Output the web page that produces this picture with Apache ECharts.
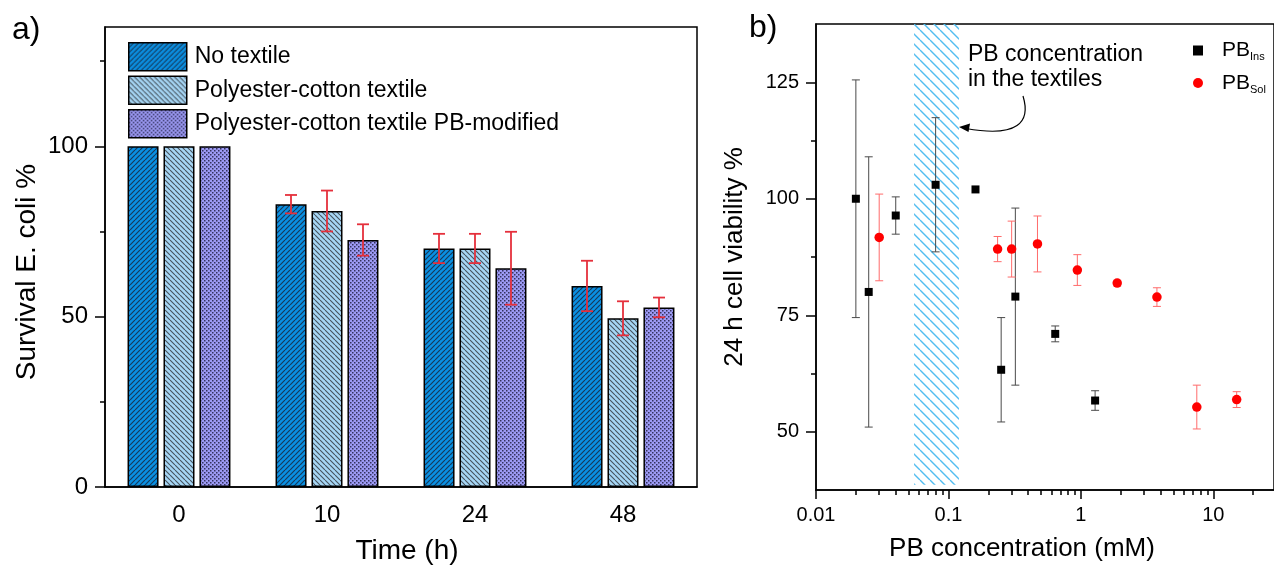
<!DOCTYPE html>
<html>
<head>
<meta charset="utf-8">
<script src="https://cdn.jsdelivr.net/npm/echarts@6/dist/echarts.min.js"></script>
<style>
  html, body { margin: 0; padding: 0; background: #fff; }
  #chart { width: 1274px; height: 570px; }
</style>
</head>
<body>
<div id="chart"></div>
<script>
// a) survival of E. coli
const times = ['0', '10', '24', '48'];
const noTextile = [100, 83, 70, 59];
const noTextileErr = [0, 2.7, 4.3, 7.4];
const cotton = [100, 81, 70, 49.5];
const cottonErr = [0, 6, 4.3, 5];
const cottonPB = [100, 72.5, 64.2, 52.7];
const cottonPBErr = [0, 4.6, 10.7, 2.9];
const survivalTicks = [0, 50, 100];
const survivalMinor = [25, 75, 125];

// b) cell viability vs PB concentration
const insConc = [0.02, 0.025, 0.04, 0.08, 0.16, 0.25, 0.32, 0.64, 1.28];
const insViab = [100, 80, 96.4, 103, 102, 63.3, 79, 71, 56.7];
const insErr = [25.5, 29, 4, 14.4, 0, 11.2, 19, 1.7, 2.1];
const solConc = [0.03, 0.235, 0.3, 0.47, 0.94, 1.88, 3.75, 7.5, 15];
const solViab = [91.7, 89.2, 89.2, 90.3, 84.7, 81.9, 78.9, 55.3, 56.9];
const solErr = [9.3, 2.7, 6, 6, 3.3, 0.6, 2, 4.7, 1.7];
const textileRange = [0.055, 0.12];
const concTicks = [0.01, 0.1, 1, 10];
const concLabels = ['0.01', '0.1', '1', '10'];
const concMinor = [0.02, 0.03, 0.04, 0.05, 0.06, 0.07, 0.08, 0.09,
  0.2, 0.3, 0.4, 0.5, 0.6, 0.7, 0.8, 0.9, 2, 3, 4, 5, 6, 7, 8, 9, 20];
const viabTicks = [50, 75, 100, 125];
const viabMinor = [62.5, 87.5, 112.5];

const FONT = 'Liberation Sans, Arial, sans-serif';

// hatch fills
function stripes(bg, fg, size, lw, back) {
  const c = document.createElement('canvas');
  c.width = c.height = size;
  const g = c.getContext('2d');
  if (bg) { g.fillStyle = bg; g.fillRect(0, 0, size, size); }
  g.strokeStyle = fg;
  g.lineWidth = lw;
  g.beginPath();
  for (let k = -1; k <= 1; k++) {
    if (back) {
      g.moveTo(k * size, 0); g.lineTo(k * size + size, size);
    } else {
      g.moveTo(k * size, size); g.lineTo(k * size + size, 0);
    }
  }
  g.stroke();
  return {image: c, repeat: 'repeat'};
}
function checker(bg, fg) {
  const c = document.createElement('canvas');
  c.width = c.height = 4;
  const g = c.getContext('2d');
  g.fillStyle = bg; g.fillRect(0, 0, 4, 4);
  g.fillStyle = fg;
  g.fillRect(0, 0, 1.5, 1.5);
  g.fillRect(2, 2, 1.5, 1.5);
  return {image: c, repeat: 'repeat'};
}

const fillNo = stripes('#0a90e2', '#163a5c', 5, 1.2, false);
const fillCotton = stripes('#a6d6f5', '#46535e', 5, 1.1, true);
const fillPB = checker('#9c9af4', '#34325e');
const fillBand = stripes(null, '#52bdf0', 10, 1.4, true);

function errBars(offset, color, width, cap) {
  return function (params, api) {
    const e = api.value(2);
    if (!e) return;
    const x = api.value(0), y = api.value(1);
    const hi = api.coord([x, y + e]);
    const lo = api.coord([x, y - e]);
    const cx = hi[0] + offset;
    const st = {stroke: color, lineWidth: width};
    return {
      type: 'group',
      children: [
        {type: 'line', shape: {x1: cx, y1: hi[1], x2: cx, y2: lo[1]}, style: st},
        {type: 'line', shape: {x1: cx - cap, y1: hi[1], x2: cx + cap, y2: hi[1]}, style: st},
        {type: 'line', shape: {x1: cx - cap, y1: lo[1], x2: cx + cap, y2: lo[1]}, style: st},
      ],
    };
  };
}

const axisLine = {lineStyle: {color: '#000', width: 1.5}};
const tickLine = {color: '#000', width: 1.5};

const chart = echarts.init(document.getElementById('chart'));
chart.setOption({
  animation: false,
  textStyle: {fontFamily: FONT, color: '#000'},
  grid: [
    {left: 105, top: 27, width: 592, height: 467, show: true, borderColor: '#000', borderWidth: 1.5},
    {left: 816, top: 24, width: 463, height: 466, show: true, borderColor: '#000', borderWidth: 1.5},
  ],
  legend: [
    {
      data: ['No textile', 'Polyester-cotton textile', 'Polyester-cotton textile PB-modified'],
      orient: 'vertical', left: 123, top: 37, icon: 'rect',
      itemWidth: 58, itemHeight: 28, itemGap: 4,
      itemStyle: {borderColor: '#000', borderWidth: 1.5},
      textStyle: {fontSize: 23, color: '#000', fontFamily: FONT, padding: [0, 0, 0, 3]},
    },
    {
      data: [{name: 'PBIns', icon: 'rect'}, {name: 'PBSol', icon: 'circle'}],
      orient: 'vertical', left: 1188, top: 35,
      itemWidth: 10, itemHeight: 10, itemGap: 10,
      formatter: name => '{a|PB}{b|' + name.slice(2) + '}',
      textStyle: {
        padding: [0, 0, 0, 14],
        rich: {
          a: {fontSize: 21, lineHeight: 24, fontFamily: FONT, color: '#000'},
          b: {fontSize: 11, lineHeight: 9, verticalAlign: 'bottom', fontFamily: FONT, color: '#000'},
        },
      },
    },
  ],
  xAxis: [
    {
      gridIndex: 0, type: 'category', data: times, position: 'bottom',
      axisLine: axisLine,
      axisTick: {alignWithLabel: true, length: 10, lineStyle: tickLine},
      axisLabel: {fontSize: 24, color: '#000', margin: 16},
      name: 'Time (h)', nameLocation: 'middle', nameGap: 50,
      nameTextStyle: {fontSize: 28, color: '#000', padding: [0, 0, 0, 12]},
    },
    {
      gridIndex: 0, type: 'category', data: times, position: 'bottom',
      axisLine: {show: false},
      axisTick: {length: 5, lineStyle: tickLine},
      axisLabel: {show: false},
    },
    {
      gridIndex: 1, type: 'log', logBase: 10, min: 0.01, max: 28.7, position: 'bottom',
      axisLine: axisLine,
      axisTick: {customValues: concTicks, length: 9, lineStyle: tickLine},
      axisLabel: {
        customValues: concTicks, fontSize: 20, color: '#000', margin: 15,
        formatter: v => concLabels[concTicks.findIndex(t => Math.abs(t - v) / t < 1e-6)] || '',
      },
      splitLine: {show: false},
      name: 'PB concentration (mM)', nameLocation: 'middle', nameGap: 46,
      nameTextStyle: {fontSize: 26, color: '#000', padding: [0, 46, 0, 0]},
    },
    {
      gridIndex: 1, type: 'log', logBase: 10, min: 0.01, max: 28.7, position: 'bottom',
      axisLine: {show: false},
      axisTick: {customValues: concMinor, length: 5, lineStyle: tickLine},
      axisLabel: {show: false},
      splitLine: {show: false},
    },
  ],
  yAxis: [
    {
      gridIndex: 0, type: 'value', min: 0, max: 135, position: 'left',
      axisLine: {show: true, lineStyle: axisLine.lineStyle},
      axisTick: {show: true, customValues: survivalTicks, length: 10, lineStyle: tickLine},
      axisLabel: {customValues: survivalTicks, fontSize: 24, color: '#000', margin: 17},
      splitLine: {show: false},
      name: 'Survival E. coli %', nameLocation: 'middle', nameGap: 64,
      nameTextStyle: {fontSize: 28, color: '#000', padding: [0, 30, 0, 0]},
    },
    {
      gridIndex: 0, type: 'value', min: 0, max: 135, position: 'left',
      axisLine: {show: false},
      axisTick: {show: true, customValues: survivalMinor, length: 5, lineStyle: tickLine},
      axisLabel: {show: false},
      splitLine: {show: false},
    },
    {
      gridIndex: 1, type: 'value', min: 37.5, max: 137.5, position: 'left',
      axisLine: {show: true, lineStyle: axisLine.lineStyle},
      axisTick: {show: true, customValues: viabTicks, length: 10, lineStyle: tickLine},
      axisLabel: {customValues: viabTicks, fontSize: 20, color: '#000', margin: 17},
      splitLine: {show: false},
      name: '24 h cell viability %', nameLocation: 'middle', nameGap: 68,
      nameTextStyle: {fontSize: 26, color: '#000'},
    },
    {
      gridIndex: 1, type: 'value', min: 37.5, max: 137.5, position: 'left',
      axisLine: {show: false},
      axisTick: {show: true, customValues: viabMinor, length: 5, lineStyle: tickLine},
      axisLabel: {show: false},
      splitLine: {show: false},
    },
  ],
  series: [
    {
      name: 'No textile', type: 'bar', xAxisIndex: 0, yAxisIndex: 0,
      data: noTextile, barWidth: 31, barGap: '16%',
      itemStyle: {color: fillNo, borderColor: '#000', borderWidth: 1.5},
    },
    {
      name: 'Polyester-cotton textile', type: 'bar', xAxisIndex: 0, yAxisIndex: 0,
      data: cotton, barWidth: 31, barGap: '16%',
      itemStyle: {color: fillCotton, borderColor: '#000', borderWidth: 1.5},
    },
    {
      name: 'Polyester-cotton textile PB-modified', type: 'bar', xAxisIndex: 0, yAxisIndex: 0,
      data: cottonPB, barWidth: 31, barGap: '16%',
      itemStyle: {color: fillPB, borderColor: '#000', borderWidth: 1.5},
    },
    {
      type: 'custom', xAxisIndex: 0, yAxisIndex: 0, z: 5,
      data: noTextile.map((v, i) => [i, v, noTextileErr[i]]),
      renderItem: errBars(-36, '#e5303c', 1.8, 6),
    },
    {
      type: 'custom', xAxisIndex: 0, yAxisIndex: 0, z: 5,
      data: cotton.map((v, i) => [i, v, cottonErr[i]]),
      renderItem: errBars(0, '#e5303c', 1.8, 6),
    },
    {
      type: 'custom', xAxisIndex: 0, yAxisIndex: 0, z: 5,
      data: cottonPB.map((v, i) => [i, v, cottonPBErr[i]]),
      renderItem: errBars(36, '#e5303c', 1.8, 6),
    },
    {
      type: 'custom', xAxisIndex: 2, yAxisIndex: 2, z: 3,
      data: insConc.map((c, i) => [c, insViab[i], insErr[i]]),
      renderItem: errBars(0, '#4a4a4a', 1, 4),
    },
    {
      type: 'custom', xAxisIndex: 2, yAxisIndex: 2, z: 3,
      data: solConc.map((c, i) => [c, solViab[i], solErr[i]]),
      renderItem: errBars(0, '#ff6b6b', 1, 4),
    },
    {
      name: 'PBIns', type: 'scatter', xAxisIndex: 2, yAxisIndex: 2, z: 4,
      symbol: 'rect', symbolSize: 8, itemStyle: {color: '#000', opacity: 1},
      data: insConc.map((c, i) => [c, insViab[i]]),
      markArea: {
        silent: true,
        itemStyle: {color: fillBand},
        data: [[{xAxis: textileRange[0], yAxis: 38.6}, {xAxis: textileRange[1], yAxis: 137.5}]],
      },
    },
    {
      name: 'PBSol', type: 'scatter', xAxisIndex: 2, yAxisIndex: 2, z: 4,
      symbol: 'circle', symbolSize: 9.5, itemStyle: {color: '#ff0000', opacity: 1},
      data: solConc.map((c, i) => [c, solViab[i]]),
    },
  ],
  graphic: [
    {type: 'text', left: 12, top: 14, style: {text: 'a)', fontSize: 32, fontFamily: FONT, fill: '#000'}},
    {type: 'text', left: 749, top: 12, style: {text: 'b)', fontSize: 32, fontFamily: FONT, fill: '#000'}},
    {
      type: 'text', left: 968, top: 42,
      style: {text: 'PB concentration\nin the textiles', fontSize: 23, lineHeight: 25, fontFamily: FONT, fill: '#000'},
    },
    {
      type: 'bezierCurve',
      shape: {x1: 1023, y1: 96, cpx1: 1031, cpy1: 122, cpx2: 1018, cpy2: 138, x2: 966, y2: 128.5},
      style: {stroke: '#000', lineWidth: 1.2, fill: null},
    },
    {type: 'polygon', shape: {points: [[959, 127], [970, 123.5], [968.5, 132]]}, style: {fill: '#000'}},
  ],
});
</script>
</body>
</html>
